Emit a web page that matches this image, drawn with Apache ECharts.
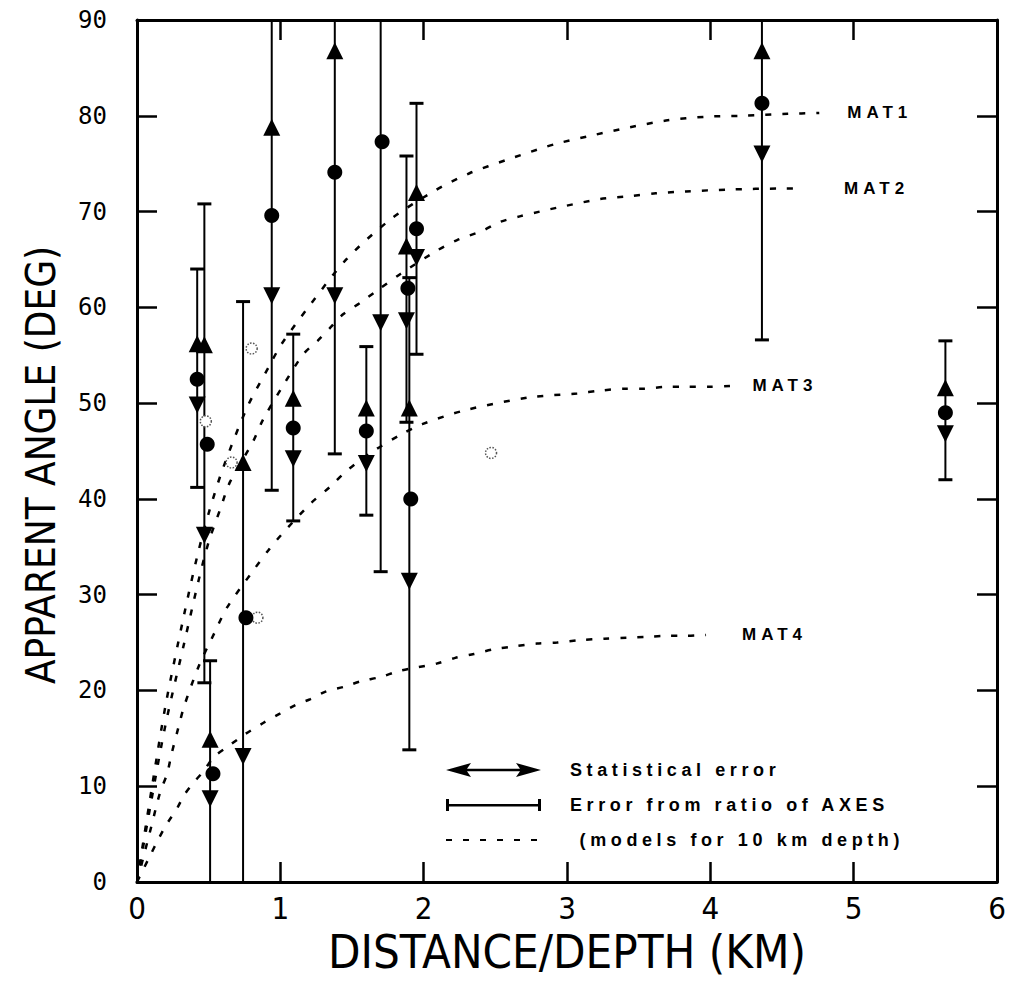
<!DOCTYPE html>
<html><head><meta charset="utf-8">
<style>
html,body{margin:0;padding:0;background:#fff;}
#chart{width:1017px;height:982px;}
text[style*="Arial"]{letter-spacing:4.6px;}
text[style*="Helvetica"]{letter-spacing:5px;}
</style>
<script src="https://cdn.jsdelivr.net/npm/echarts@6/dist/echarts.min.js"></script>
</head><body><div id="chart"></div>
<script>
// ---- measured points ----
const pointX  = [0.42, 0.47, 0.51, 0.74, 0.94, 1.09, 1.38, 1.60, 1.70, 1.88, 1.95, 1.90, 4.36, 5.64];
const circleX = [0.42, 0.49, 0.53, 0.76, 0.94, 1.09, 1.38, 1.60, 1.71, 1.89, 1.95, 1.91, 4.36, 5.64];
const circleY = [52.5, 45.7, 11.3, 27.6, 69.6, 47.4, 74.1, 47.1, 77.3, 62.0, 68.2, 40.0, 81.3, 49.0];
const upY     = [56.2, 56.1, 14.9, 43.8, 78.8, 50.5, 86.8, 49.5, null, 66.4, 72.0, 49.5, 86.8, 51.6];
const downY   = [49.8, 36.2,  8.7, 13.1, 61.2, 44.2, 61.2, 43.7, 58.4, 58.6, 65.2, 31.4, 76.0, 46.8];
const barLow  = [41.2, 20.8,  0.0,  0.0, 40.9, 37.7, 44.7, 38.3, 32.4, 48.0, 55.1, 13.8, 56.6, 42.0];
const barHigh = [64.0, 70.8, 23.1, 60.6, 90.0, 57.2, 90.0, 55.9, 90.0, 75.8, 81.3, 63.1, 90.0, 56.5];
// small open circles
const openX = [0.80, 0.48, 0.66, 0.84, 2.47];
const openY = [55.7, 48.1, 43.8, 27.6, 44.8];
// ---- model curves (10 km depth) ----
const mat1X = [0, 0.1, 0.2, 0.33, 0.42, 0.5, 0.6, 0.77, 0.92, 1.01, 1.21, 1.46, 1.77, 2.08, 2.32, 2.58, 2.8, 2.93, 3.16, 3.44, 3.69, 3.97, 4.23, 4.54, 4.76];
const mat1Y = [0, 9.5, 18.5, 28, 34, 38.5, 43.2, 49.6, 53.8, 56.2, 60.3, 65, 69.2, 72.2, 74, 75.4, 76.5, 77.1, 77.9, 78.8, 79.5, 79.9, 80, 80.2, 80.3];
const mat2X = [0, 0.1, 0.2, 0.33, 0.43, 0.5, 0.58, 0.65, 0.81, 0.88, 1.01, 1.16, 1.26, 1.35, 1.44, 1.56, 1.67, 1.84, 2.09, 2.23, 2.41, 2.53, 2.67, 2.81, 2.93, 3.23, 3.44, 3.62, 3.83, 4.13, 4.5, 4.64];
const mat2Y = [0, 8.5, 16.5, 25, 31.5, 35.5, 38.9, 41.8, 46, 48.3, 51.6, 55.1, 56.5, 57.9, 59.3, 60.5, 61.7, 63.5, 65.9, 67, 68, 68.9, 69.5, 70, 70.4, 71.3, 71.6, 71.9, 72.1, 72.3, 72.4, 72.4];
const mat3X = [0, 0.1, 0.16, 0.21, 0.24, 0.29, 0.33, 0.43, 0.54, 0.63, 0.81, 0.92, 1.01, 1.21, 1.35, 1.46, 1.65, 1.84, 1.99, 2.3, 2.74, 3.07, 3.23, 3.4, 3.54, 3.69, 3.83, 3.99, 4.14];
const mat3Y = [0, 5.8, 9.3, 11.3, 13.3, 16.2, 18.4, 22.5, 26, 28.7, 32.5, 34.7, 36.3, 39.5, 41.3, 42.9, 45, 46.7, 47.8, 49.3, 50.6, 51, 51.3, 51.5, 51.5, 51.7, 51.7, 51.7, 51.8];
const mat4X = [0, 0.09, 0.15, 0.21, 0.28, 0.33, 0.39, 0.46, 0.54, 0.64, 0.75, 0.88, 1.0, 1.11, 1.21, 1.32, 1.45, 1.57, 1.7, 1.82, 1.95, 2.09, 2.22, 2.35, 2.49, 2.63, 2.79, 2.93, 3.09, 3.26, 3.42, 3.56, 3.69, 3.83, 3.97];
const mat4Y = [0, 2.7, 4.5, 6.1, 7.7, 9.1, 10.3, 11.5, 13.1, 14.2, 15.4, 16.6, 17.6, 18.5, 19.1, 19.9, 20.4, 21, 21.4, 22, 22.4, 22.8, 23.4, 23.8, 24.3, 24.6, 24.9, 25, 25.25, 25.4, 25.5, 25.6, 25.7, 25.7, 25.8];
const xTicks = [0, 1, 2, 3, 4, 5, 6];
const yTicks = [0, 10, 20, 30, 40, 50, 60, 70, 80, 90];
const modelNames = ['MAT1', 'MAT2', 'MAT3', 'MAT4'];
const legendNames = ['Statistical error', 'Error from ratio of AXES', '(models for 10 km depth)'];

const zip = (xs, ys) => xs.map((x, i) => [x, ys[i]]);
const narrow = "'Liberation Sans Narrow','DejaVu Sans Condensed',sans-serif";
const X_MIN = xTicks[0], X_MAX = xTicks[xTicks.length - 1];
const Y_MIN = yTicks[0], Y_MAX = yTicks[yTicks.length - 1];

const frameAxis = (extra) => Object.assign({
  type: 'value', min: X_MIN, max: X_MAX, interval: 1,
  axisLine: { show: true, onZero: false, lineStyle: { color: '#000', width: 3 } },
  axisTick: { show: true, inside: true, length: 20, lineStyle: { color: '#000', width: 2.5 } },
  splitLine: { show: false }
}, extra);

const chart = echarts.init(document.getElementById('chart'), null, { renderer: 'svg' });

const modelSeries = [[mat1X, mat1Y, 28], [mat2X, mat2Y, 42], [mat3X, mat3Y, 22], [mat4X, mat4Y, 36]].map((m, k) => ({
  type: 'line', name: legendNames[2], data: zip(m[0], m[1]), smooth: 0.3, symbol: 'none', z: 2,
  lineStyle: { color: '#000', width: 2.5, type: [6, 11] },
  itemStyle: { color: '#000' },
  endLabel: { show: true, formatter: modelNames[k], distance: m[2], color: '#000',
    fontFamily: 'Helvetica', fontWeight: 'bold', fontSize: 17 }
}));

chart.setOption({
  animation: false,
  backgroundColor: '#fff',
  grid: { left: 137, right: 20, top: 20, bottom: 100 },
  xAxis: [
    frameAxis({ position: 'bottom',
      axisLabel: { margin: 10, fontSize: 31, fontFamily: narrow, color: '#000' },
      name: 'DISTANCE/DEPTH (KM)', nameLocation: 'middle', nameGap: 46,
      nameTextStyle: { fontSize: 47, fontFamily: narrow, color: '#000' } }),
    frameAxis({ position: 'top', axisLabel: { show: false } })
  ],
  yAxis: [
    frameAxis({ min: Y_MIN, max: Y_MAX, interval: 10, position: 'left',
      axisLabel: { margin: 30, fontSize: 24, fontFamily: 'DejaVu Sans Mono', color: '#000' },
      name: 'APPARENT ANGLE (DEG)', nameLocation: 'middle', nameGap: 76, nameRotate: 90,
      nameTextStyle: { fontSize: 40, fontFamily: narrow, color: '#000', padding: [0, 28, 0, 0] } }),
    frameAxis({ min: Y_MIN, max: Y_MAX, interval: 10, position: 'right', axisLabel: { show: false } })
  ],
  legend: {
    orient: 'vertical', left: 445, top: 761, padding: 0, itemWidth: 95, itemHeight: 14, itemGap: 17,
    selectedMode: false,
    formatter: (name) => name === legendNames[2] ? ' ' + name : name,
    textStyle: { fontFamily: 'Arial', fontWeight: 'bold', fontSize: 18, color: '#000',
      padding: [0, 0, 0, 24] },
    data: [
      { name: legendNames[0], icon: 'path://M0,7 L25,0 L21,5.8 L74,5.8 L70,0 L95,7 L70,14 L74,8.2 L21,8.2 L25,14 Z' },
      { name: legendNames[1], icon: 'path://M0,1 L3,1 L3,6 L92,6 L92,1 L95,1 L95,13 L92,13 L92,8.4 L3,8.4 L3,13 L0,13 Z' },
      { name: legendNames[2], itemStyle: { opacity: 0 } }
    ]
  },
  series: [
    { type: 'custom', name: legendNames[1], z: 3,
      itemStyle: { color: '#000' },
      data: pointX.map((x, i) => [x, barLow[i], barHigh[i]]),
      encode: { x: 0, y: [1, 2] },
      renderItem: (params, api) => {
        const x = api.value(0), lo = api.value(1), hi = api.value(2);
        const pLo = api.coord([x, lo]), pHi = api.coord([x, hi]);
        const cw = 7;
        const st = { stroke: '#000', lineWidth: 2 };
        const ch = [{ type: 'line', shape: { x1: pLo[0], y1: pLo[1], x2: pHi[0], y2: pHi[1] }, style: st }];
        if (hi < Y_MAX) ch.push({ type: 'line', shape: { x1: pHi[0] - cw, y1: pHi[1], x2: pHi[0] + cw, y2: pHi[1] }, style: { stroke: '#000', lineWidth: 3 } });
        if (lo > Y_MIN) ch.push({ type: 'line', shape: { x1: pLo[0] - cw, y1: pLo[1], x2: pLo[0] + cw, y2: pLo[1] }, style: { stroke: '#000', lineWidth: 3 } });
        return { type: 'group', children: ch };
      }
    },
    ...modelSeries,
    { type: 'scatter', name: 'open', z: 4, data: zip(openX, openY), symbol: 'circle', symbolSize: 11,
      itemStyle: { color: '#fff', borderColor: '#555', borderWidth: 1.5, borderType: 'dotted', opacity: 1 } },
    { type: 'scatter', name: legendNames[0], z: 5, symbol: 'triangle', symbolSize: [17, 17],
      itemStyle: { color: '#000', opacity: 1 },
      data: pointX.map((x, i) => [x, upY[i]]).filter(d => d[1] != null) },
    { type: 'scatter', name: legendNames[0], z: 5, symbol: 'triangle', symbolSize: [17, 17], symbolRotate: 180,
      itemStyle: { color: '#000', opacity: 1 },
      data: pointX.map((x, i) => [x, downY[i]]).filter(d => d[1] != null) },
    { type: 'scatter', name: 'value', z: 6, symbol: 'circle', symbolSize: 15,
      itemStyle: { color: '#000', opacity: 1 }, data: zip(circleX, circleY) }
  ]
});
</script></body></html>
